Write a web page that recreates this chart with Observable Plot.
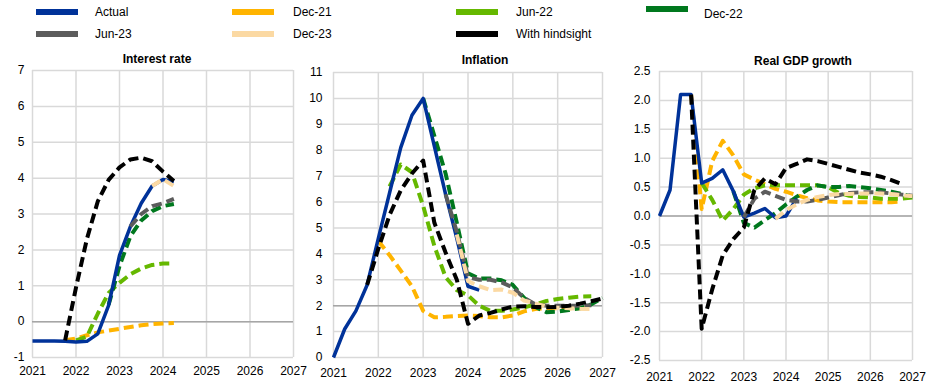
<!DOCTYPE html>
<html><head><meta charset="utf-8">
<script src="https://cdn.jsdelivr.net/npm/d3@7"></script>
<script src="https://cdn.jsdelivr.net/npm/@observablehq/plot@0.6"></script>
<style>
body{margin:0;background:#fff;font-family:"Liberation Sans",Arial,sans-serif;}
#root{position:relative;width:939px;height:388px;overflow:hidden;background:#fff}
.sw{position:absolute;height:6px;width:42px;transform:translateY(-50%)}
.lt{position:absolute;font-size:12px;line-height:14px;color:#000;transform:translateY(-50%);white-space:nowrap}
.title{position:absolute;font-size:12px;font-weight:bold;transform:translate(-50%,-50%);white-space:nowrap;color:#000}
.panel{position:absolute;top:45px}
</style></head><body><div id="root"></div>
<script>
const _ = null;
const quarters = ["2021Q1","2021Q2","2021Q3","2021Q4","2022Q1","2022Q2","2022Q3","2022Q4","2023Q1","2023Q2","2023Q3","2023Q4","2024Q1","2024Q2","2024Q3","2024Q4","2025Q1","2025Q2","2025Q3","2025Q4","2026Q1","2026Q2","2026Q3","2026Q4","2027Q1"];
const years = [2021,2022,2023,2024,2025,2026,2027];
const seriesNames = ["Actual","Dec-21","Jun-22","Dec-22","Jun-23","Dec-23","With hindsight"];
const seriesColors = ["#003299","#ffb400","#65b800","#00781e","#5c5c5c","#fbd9a3","#000000"];
const panelTitles = ["Interest rate","Inflation","Real GDP growth"];

// Interest rate
const rateActual    = [-0.54,-0.54,-0.54,-0.55,-0.57,-0.55,-0.34,0.45,1.85,2.65,3.3,3.78,3.96,3.9,_,_,_,_,_,_,_,_,_,_,_];
const rateDec21     = [_,_,_,-0.52,-0.47,-0.38,-0.3,-0.25,-0.2,-0.15,-0.1,-0.07,-0.05,-0.04,_,_,_,_,_,_,_,_,_,_,_];
const rateJun22     = [_,_,_,_,-0.52,-0.42,0.22,0.8,1.08,1.32,1.48,1.58,1.62,1.62,_,_,_,_,_,_,_,_,_,_,_];
const rateDec22     = [_,_,_,_,_,_,_,0.47,1.55,2.38,2.82,3.08,3.22,3.28,_,_,_,_,_,_,_,_,_,_,_];
const rateJun23     = [_,_,_,_,_,_,_,_,_,2.65,3.0,3.22,3.3,3.42,_,_,_,_,_,_,_,_,_,_,_];
const rateDec23     = [_,_,_,_,_,_,_,_,_,_,_,3.78,3.97,3.78,_,_,_,_,_,_,_,_,_,_,_];
const rateHindsight = [_,_,_,-0.52,0.95,2.3,3.35,3.95,4.3,4.52,4.57,4.47,4.18,3.92,_,_,_,_,_,_,_,_,_,_,_];

// Inflation
const inflActual    = [0,1.1,1.8,2.8,4.6,6.35,8.1,9.35,10.0,8.15,6.3,4.6,2.75,2.6,_,_,_,_,_,_,_,_,_,_,_];
const inflDec21     = [_,_,_,_,4.5,3.95,3.35,2.75,1.8,1.55,1.57,1.6,1.62,1.6,1.55,1.55,1.62,1.78,1.87,1.9,1.9,1.9,1.9,1.9,_];
const inflJun22     = [_,_,_,_,_,6.6,7.45,7.15,5.85,4.3,3.1,2.6,2.4,2.0,1.8,1.8,1.85,1.93,2.05,2.18,2.26,2.31,2.35,2.36,_];
const inflDec22     = [_,_,_,_,_,_,_,_,10.0,8.55,7.1,5.2,3.25,3.05,3.05,2.98,2.8,2.3,1.95,1.75,1.77,1.83,1.9,2.05,2.3];
const inflJun23     = [_,_,_,_,_,_,_,_,_,_,6.3,4.85,3.1,3.0,3.0,2.9,2.7,2.3,2.05,2.0,2.0,2.0,2.0,2.02,_];
const inflDec23     = [_,_,_,_,_,_,_,_,_,_,_,4.75,2.95,2.75,2.6,2.62,2.5,2.2,2.08,1.97,1.92,1.9,1.88,1.87,_];
const inflHindsight = [_,_,_,2.8,4.2,5.5,6.45,7.1,7.6,5.2,4.05,3.0,1.3,1.62,1.72,1.85,1.97,1.98,1.95,1.94,1.95,2.0,2.08,2.17,2.28];

// Real GDP growth
const gdpActual     = [0.0,0.45,2.1,2.1,0.57,0.65,0.8,0.43,-0.02,0.05,0.13,-0.03,0.0,0.3,_,_,_,_,_,_,_,_,_,_,_];
const gdpDec21      = [_,_,_,2.1,0.12,0.95,1.3,1.05,0.72,0.63,0.55,0.47,0.42,0.36,0.31,0.27,0.25,0.24,0.24,0.24,0.24,0.24,0.24,0.25,_];
const gdpJun22      = [_,_,_,_,0.57,0.28,-0.08,0.12,0.37,0.48,0.53,0.53,0.53,0.53,0.53,0.53,0.5,0.4,0.35,0.33,0.32,0.3,0.3,0.3,0.32];
const gdpDec22      = [_,_,_,_,_,_,_,0.43,-0.12,-0.2,-0.07,0.05,0.2,0.33,0.45,0.53,0.5,0.5,0.52,0.5,0.48,0.45,0.42,0.38,0.33];
const gdpJun23      = [_,_,_,_,_,_,_,_,-0.02,0.3,0.42,0.35,0.28,0.25,0.25,0.28,0.32,0.36,0.4,0.41,0.41,0.41,0.39,0.37,0.35];
const gdpDec23      = [_,_,_,_,_,_,_,_,_,_,_,-0.05,0.1,0.2,0.28,0.33,0.36,0.38,0.38,0.39,0.39,0.39,0.38,0.36,0.34];
const gdpHindsight  = [_,_,_,2.1,-1.95,-1.27,-0.68,-0.4,-0.2,0.45,0.65,0.55,0.83,0.9,0.98,0.95,0.9,0.85,0.8,0.75,0.72,0.68,0.62,0.55,_];

const rateTicks = [-1,0,1,2,3,4,5,6,7];
const inflTicks = [0,1,2,3,4,5,6,7,8,9,10,11];
const gdpTicks  = [-2.5,-2.0,-1.5,-1.0,-0.5,0.0,0.5,1.0,1.5,2.0,2.5];

const qToYear = q => +q.slice(0,4) + (+q.slice(5) - 1) / 4;

function rows(values) {
  const out = [];
  values.forEach((v, i) => { if (v !== null) out.push({x: qToYear(quarters[i]), y: v}); });
  return out;
}

// drawing order: index into seriesNames
const drawOrder = [1,2,3,0,4,5,6];

function panel(cfg) {
  const lines = drawOrder.map(k => Plot.line(rows(cfg.series[k]), {
    x: "x", y: "y",
    stroke: seriesColors[k],
    strokeWidth: k === 0 ? 3.5 : 4,
    strokeDasharray: k === 0 ? null : "10,5",
    strokeLinejoin: "round",
    strokeLinecap: "butt"
  }));
  return Plot.plot({
    width: cfg.width, height: 343,
    marginLeft: cfg.ml, marginRight: cfg.mr, marginTop: cfg.mt, marginBottom: cfg.mb,
    style: {fontFamily: '"Liberation Sans", Arial, sans-serif', fontSize: "12px", color: "#000", background: "transparent", overflow: "visible"},
    x: {domain: [2021, 2027], label: null},
    y: {domain: cfg.domain, label: null},
    marks: [
      Plot.ruleX(years, {stroke: "#d9d9d9", strokeWidth: 1.5}),
      Plot.ruleY(cfg.ticks, {stroke: "#d9d9d9", strokeWidth: 1.5}),
      Plot.ruleY([cfg.ref], {stroke: "#a6a6a6", strokeWidth: 1.5}),
      Plot.axisX(years, {tickSize: 0, tickPadding: cfg.xpad, tickFormat: d => String(d), fontSize: 12, label: null}),
      Plot.axisY(cfg.ticks, {tickSize: 0, tickPadding: cfg.ypad, tickFormat: cfg.fmt, fontSize: 12, label: null}),
      ...lines
    ]
  });
}

const root = document.getElementById("root");

// legend
const legendPos = [
  {sx: 36, tx: 95, sy: 12, ty: 12},
  {sx: 232, tx: 293, sy: 12, ty: 12},
  {sx: 456, tx: 516, sy: 12, ty: 12},
  {sx: 646, tx: 704, sy: 9, ty: 14},
  {sx: 36, tx: 95, sy: 34, ty: 34},
  {sx: 232, tx: 293, sy: 34, ty: 34},
  {sx: 456, tx: 516, sy: 34, ty: 34}
];
seriesNames.forEach((name, k) => {
  const p = legendPos[k];
  const sw = document.createElement("div");
  sw.className = "sw";
  sw.style.left = p.sx + "px";
  sw.style.top = p.sy + "px";
  sw.style.background = seriesColors[k];
  root.appendChild(sw);
  const t = document.createElement("div");
  t.className = "lt";
  t.style.left = p.tx + "px";
  t.style.top = p.ty + "px";
  t.textContent = name;
  root.appendChild(t);
});

const cfgs = [
  {left: 0, width: 310, ml: 32, mr: 17, mt: 25, mb: 31, domain: [-1, 7], ticks: rateTicks, ref: 0, fmt: d => String(d), xpad: 9, ypad: 8,
   series: [rateActual, rateDec21, rateJun22, rateDec22, rateJun23, rateDec23, rateHindsight], tx: 157, ty: 59},
  {left: 310, width: 310, ml: 23, mr: 18, mt: 27, mb: 31, domain: [0, 11], ticks: inflTicks, ref: 2, fmt: d => String(d), xpad: 11, ypad: 11,
   series: [inflActual, inflDec21, inflJun22, inflDec22, inflJun23, inflDec23, inflHindsight], tx: 485, ty: 60},
  {left: 620, width: 319, ml: 39, mr: 27, mt: 26, mb: 28, domain: [-2.5, 2.5], ticks: gdpTicks, ref: 0, fmt: d => d.toFixed(1), xpad: 12, ypad: 9,
   series: [gdpActual, gdpDec21, gdpJun22, gdpDec22, gdpJun23, gdpDec23, gdpHindsight], tx: 803, ty: 61}
];

cfgs.forEach((cfg, i) => {
  const svg = panel(cfg);
  svg.classList.add("panel");
  svg.style.left = cfg.left + "px";
  svg.style.position = "absolute";
  svg.style.top = "45px";
  root.appendChild(svg);
  const t = document.createElement("div");
  t.className = "title";
  t.style.left = cfg.tx + "px";
  t.style.top = cfg.ty + "px";
  t.textContent = panelTitles[i];
  root.appendChild(t);
});
</script>
</body></html>
